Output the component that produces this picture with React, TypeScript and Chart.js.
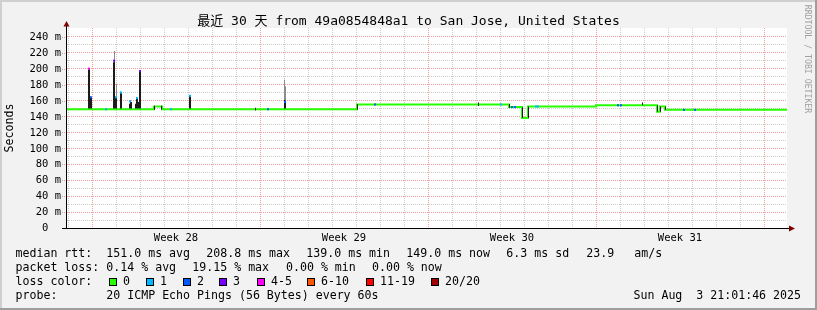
import { useEffect, useRef } from 'react';
import { Chart, registerables } from 'chart.js';

Chart.register(...registerables);

// ---------------- data ----------------
const TITLE = '最近 30 天 from 49a0854848a1 to San Jose, United States';
const Y_AXIS_TITLE = 'Seconds';
const WATERMARK = 'RRDTOOL / TOBI OETIKER';

const Y_LABEL_VALUES = [0, 20, 40, 60, 80, 100, 120, 140, 160, 180, 200, 220, 240];
const Y_LABELS = ['0  ', '20 m', '40 m', '60 m', '80 m', '100 m', '120 m', '140 m', '160 m', '180 m', '200 m', '220 m', '240 m'];
const Y_GRID_VALUES = [10, 20, 30, 40, 50, 60, 70, 80, 90, 100, 110, 120, 130, 140, 150, 160, 170, 180, 190, 200, 210, 220, 230, 240];

const WEEK_LABELS = ['Week 28', 'Week 29', 'Week 30', 'Week 31'];
const WEEK_LABEL_HOURS = [109, 277, 445, 613];
const WEEK_START_HOURS = [25, 193, 361, 529, 697];
const DAY_START_HOURS = [1, 25, 49, 73, 97, 121, 145, 169, 193, 217, 241, 265, 289, 313, 337, 361, 385, 409, 433, 457, 481, 505, 529, 553, 577, 601, 625, 649, 673, 697];

// median RTT (ms), stepped: value holds from this hour to the next
const MEDIAN_HOURS = [0, 87, 95, 290, 442, 455, 461, 529, 590, 593, 598, 720];
const MEDIAN_MS = [149, 152.5, 149, 155, 151.7, 138, 152.5, 154, 146, 152.5, 148.3, 148.3];

// dense smoke (ms ranges per hourly sample)
const SMOKE_HOURS = [21.5, 22.5, 23.5, 24.5, 46.5, 47.5, 48.5, 49.5, 53.5, 54.5, 62.5, 63.5, 64.5, 68.5, 69.5, 70.5, 71.5, 72.5, 73.5, 87.5, 94.5, 122.5, 123.5, 188.5, 217.5, 218.5, 290.5, 411.5, 442.5, 455.5, 461.5, 575.5, 590.5, 593.5, 598.5];
const SMOKE_LOW = [150, 150, 150, 150, 150, 150, 150, 150, 150, 150, 150, 150, 150, 150, 150, 150, 150, 150, 150, 148.5, 148.5, 150, 150, 147.5, 150, 150, 148.5, 153, 151, 138, 138, 154, 146, 146, 148];
const SMOKE_HIGH = [199, 200, 165, 163, 208, 210, 165, 164, 171, 169, 156, 160, 158, 156, 164, 162, 158, 197, 196, 153.5, 153.5, 167, 165, 151, 161, 160, 155.5, 157.5, 155.5, 151.5, 152.5, 157.5, 154, 152.5, 152.5];

// light smoke
const HAZE_HOURS = [47.5, 49.5, 217.5, 218.5];
const HAZE_LOW = [210, 164, 161, 160];
const HAZE_HIGH = [222, 181, 186, 178];

// median samples with packet loss (hour, ms, lost pings)
const LOSS_HOURS = [22, 24, 47, 49, 54, 63, 70, 73, 123, 218, 39, 104, 201, 308, 434, 445, 448, 469, 471, 551, 554, 617, 628];
const LOSS_MS = [200, 164, 210, 164, 170, 159, 163, 197, 166, 158, 149, 149, 149, 155, 155, 151.7, 151.7, 152.5, 152.5, 154, 154, 148.3, 148.3];
const LOSS_COUNT = [4, 2, 3, 1, 1, 1, 1, 3, 1, 2, 1, 1, 2, 2, 1, 2, 2, 1, 1, 2, 2, 2, 2];

const RTT_LABEL = 'median rtt:';
const RTT_STATS = ['151.0 ms avg', '208.8 ms max', '139.0 ms min', '149.0 ms now', '6.3 ms sd', '23.9', 'am/s'];
const LOSS_LABEL = 'packet loss:';
const LOSS_STATS = ['0.14 % avg', '19.15 % max', '0.00 % min', '0.00 % now'];
const LOSS_COLOR_LABEL = 'loss color:';
const LOSS_LEGEND = ['0', '1', '2', '3', '4-5', '6-10', '11-19', '20/20'];
const LOSS_LEGEND_MAX = [0, 1, 2, 3, 5, 10, 19, 20];
const PROBE_LABEL = 'probe:';
const PROBE_TEXT = '20 ICMP Echo Pings (56 Bytes) every 60s';
const DATE_TEXT = 'Sun Aug  3 21:01:46 2025';

// ---------------- styles / layout ----------------
const W = 817;
const H = 310;
const LOSS_COLORS = ['#26ff00', '#00b8ff', '#0059ff', '#7700ff', '#ff00ff', '#ff5500', '#ff0000', '#a10000'];
const MAJOR_GRID = 'rgba(222, 80, 80, 0.55)';
const MINOR_GRID = 'rgba(140, 140, 140, 0.45)';
const MONO = '"DejaVu Sans Mono", "Noto Sans CJK SC", monospace';
const RTT_X = [107, 207, 307, 407, 507, 587, 635];
const LOSS_X = [107, 193, 286.7, 372.7];
const BOX_X = [109, 146, 183, 219, 257, 307, 366, 431];
const ROW_Y = [254, 268, 282, 296];

function lossColor(n: number) {
  for (let i = 0; i < LOSS_LEGEND_MAX.length; i++) {
    if (n <= LOSS_LEGEND_MAX[i]) return LOSS_COLORS[i];
  }
  return LOSS_COLORS[LOSS_COLORS.length - 1];
}

const chromePlugin = {
  id: 'rrdChrome',
  beforeDraw(chart: any) {
    const { ctx, chartArea: a } = chart;
    ctx.save();
    ctx.fillStyle = '#F2F2F2';
    ctx.fillRect(0, 0, W, H);
    ctx.fillStyle = '#CFCFCF';
    ctx.fillRect(0, 0, W, 2);
    ctx.fillRect(0, 0, 2, H);
    ctx.fillStyle = '#9E9E9E';
    ctx.fillRect(0, H - 2, W, 2);
    ctx.fillRect(W - 2, 0, 2, H);
    ctx.fillStyle = '#FFFFFF';
    ctx.fillRect(a.left, a.top, a.right - a.left, a.bottom - a.top);
    ctx.restore();
  },
  afterDraw(chart: any) {
    const { ctx } = chart;
    const xs = chart.scales.x;
    const ys = chart.scales.y;
    const x0 = Math.round(xs.getPixelForValue(0));
    const y0 = Math.round(ys.getPixelForValue(0));
    ctx.save();

    // grid stubs left of the axis
    ctx.lineWidth = 1;
    ctx.setLineDash([1, 1]);
    ctx.strokeStyle = MAJOR_GRID;
    for (const v of Y_LABEL_VALUES) {
      if (v === 0) continue;
      const y = Math.round(ys.getPixelForValue(v)) + 0.5;
      ctx.beginPath();
      ctx.moveTo(x0 - 5, y);
      ctx.lineTo(x0, y);
      ctx.stroke();
    }
    ctx.setLineDash([]);

    // axes
    ctx.strokeStyle = '#000000';
    ctx.beginPath();
    ctx.moveTo(x0 - 5, y0 + 0.5);
    ctx.lineTo(xs.right + 3, y0 + 0.5);
    ctx.stroke();
    ctx.beginPath();
    ctx.moveTo(x0 - 0.5, y0 + 1);
    ctx.lineTo(x0 - 0.5, ys.top - 2);
    ctx.stroke();

    // arrows
    ctx.fillStyle = '#7F0000';
    ctx.beginPath();
    ctx.moveTo(x0 - 3.5, ys.top - 1.5);
    ctx.lineTo(x0 + 2.5, ys.top - 1.5);
    ctx.lineTo(x0 - 0.5, ys.top - 7);
    ctx.closePath();
    ctx.fill();
    ctx.beginPath();
    ctx.moveTo(xs.right + 2, y0 - 2.5);
    ctx.lineTo(xs.right + 2, y0 + 3.5);
    ctx.lineTo(xs.right + 8, y0 + 0.5);
    ctx.closePath();
    ctx.fill();

    ctx.fillStyle = '#000000';
    // y labels
    ctx.font = `10.5px ${MONO}`;
    ctx.textAlign = 'right';
    ctx.textBaseline = 'middle';
    Y_LABEL_VALUES.forEach((v, i) => {
      ctx.fillText(Y_LABELS[i], x0 - 6, ys.getPixelForValue(v) + 0.5);
    });
    // week labels
    ctx.textAlign = 'center';
    WEEK_LABELS.forEach((t, i) => {
      ctx.fillText(t, xs.getPixelForValue(WEEK_LABEL_HOURS[i]), y0 + 10);
    });

    // title
    ctx.font = `13px ${MONO}`;
    ctx.fillText(TITLE, W / 2, 22);

    // y-axis title
    ctx.save();
    ctx.font = `11.6px ${MONO}`;
    ctx.translate(10, 128);
    ctx.rotate(-Math.PI / 2);
    ctx.fillText(Y_AXIS_TITLE, 0, 0);
    ctx.restore();

    // watermark
    ctx.save();
    ctx.font = `8.2px ${MONO}`;
    ctx.fillStyle = '#A0A0A0';
    ctx.translate(807, 59);
    ctx.rotate(Math.PI / 2);
    ctx.fillText(WATERMARK, 0, 0);
    ctx.restore();

    // legend
    ctx.font = `11.6px ${MONO}`;
    ctx.textAlign = 'left';
    ctx.textBaseline = 'middle';
    ctx.fillText(RTT_LABEL, 15.5, ROW_Y[0]);
    RTT_STATS.forEach((t, i) => ctx.fillText(t, RTT_X[i] - 0.7, ROW_Y[0]));
    ctx.fillText(LOSS_LABEL, 15.5, ROW_Y[1]);
    LOSS_STATS.forEach((t, i) => ctx.fillText(t, LOSS_X[i] - 0.7, ROW_Y[1]));
    ctx.fillText(LOSS_COLOR_LABEL, 15.5, ROW_Y[2]);
    LOSS_LEGEND.forEach((t, i) => {
      const bx = BOX_X[i];
      ctx.fillStyle = LOSS_COLORS[i];
      ctx.fillRect(bx, ROW_Y[2] - 4, 8, 8);
      ctx.strokeStyle = '#000000';
      ctx.lineWidth = 1;
      ctx.strokeRect(bx + 0.5, ROW_Y[2] - 3.5, 7, 7);
      ctx.fillStyle = '#000000';
      ctx.fillText(t, bx + 14, ROW_Y[2]);
    });
    ctx.fillText(PROBE_LABEL, 15.5, ROW_Y[3]);
    ctx.fillText(PROBE_TEXT, 106.3, ROW_Y[3]);
    ctx.textAlign = 'right';
    ctx.fillText(DATE_TEXT, 801, ROW_Y[3]);

    ctx.restore();
  },
};

export default function App() {
  const ref = useRef<HTMLCanvasElement>(null);

  useEffect(() => {
    document.body.style.margin = '0';
    const canvas = ref.current;
    if (!canvas) return;
    const chart = new Chart(canvas, {
      type: 'line',
      data: {
        datasets: [
          {
            type: 'line',
            label: 'median',
            data: MEDIAN_HOURS.map((h, i) => ({ x: h, y: MEDIAN_MS[i] })),
            borderColor: LOSS_COLORS[0],
            borderWidth: 2,
            stepped: true,
            pointRadius: 0,
            fill: false,
            order: 4,
          } as any,
          {
            type: 'bar',
            label: 'haze',
            data: HAZE_HOURS.map((h, i) => ({ x: h, y: [HAZE_LOW[i], HAZE_HIGH[i]] })),
            backgroundColor: '#8c8c8c',
            borderWidth: 0,
            barThickness: 1,
            grouped: false,
            inflateAmount: 0,
            order: 3,
          } as any,
          {
            type: 'bar',
            label: 'smoke',
            data: SMOKE_HOURS.map((h, i) => ({ x: h, y: [SMOKE_LOW[i], SMOKE_HIGH[i]] })),
            backgroundColor: '#1c1c1c',
            borderWidth: 0,
            barThickness: 1,
            grouped: false,
            inflateAmount: 0,
            order: 2,
          } as any,
          {
            type: 'line',
            label: 'loss',
            data: LOSS_HOURS.map((h, i) => ({ x: h, y: LOSS_MS[i] })),
            showLine: false,
            pointStyle: 'rect',
            pointRadius: 1.42,
            pointBorderWidth: 0,
            pointBackgroundColor: LOSS_COUNT.map((n) => lossColor(n)),
            order: 1,
          } as any,
        ],
      },
      options: {
        animation: false,
        responsive: false,
        devicePixelRatio: 1,
        events: [],
        layout: { padding: { left: 67, right: 30, top: 28, bottom: 82 } },
        plugins: {
          legend: { display: false },
          tooltip: { enabled: false },
          title: { display: false },
        },
        scales: {
          x: {
            type: 'linear',
            min: 0,
            max: 720,
            offset: false,
            ticks: { display: false },
            border: { display: false, dash: [1, 1] },
            grid: {
              drawTicks: false,
              offset: false,
              lineWidth: 1,
              color: (c: any) => (c.tick && WEEK_START_HOURS.includes(c.tick.value) ? MAJOR_GRID : MINOR_GRID),
            },
            afterBuildTicks: (s: any) => {
              s.ticks = DAY_START_HOURS.map((v) => ({ value: v }));
            },
          },
          y: {
            type: 'linear',
            min: 0,
            max: 251,
            ticks: { display: false },
            border: { display: false, dash: [1, 1] },
            grid: {
              drawTicks: false,
              lineWidth: 1,
              color: (c: any) => (c.tick && c.tick.value % 20 === 0 ? MAJOR_GRID : MINOR_GRID),
            },
            afterBuildTicks: (s: any) => {
              s.ticks = Y_GRID_VALUES.map((v) => ({ value: v }));
            },
          },
        },
      } as any,
      plugins: [chromePlugin],
    });
    return () => chart.destroy();
  }, []);

  return (
    <div style={{ width: W, height: H }}>
      <canvas ref={ref} width={W} height={H} style={{ display: 'block', width: W, height: H }} />
    </div>
  );
}
